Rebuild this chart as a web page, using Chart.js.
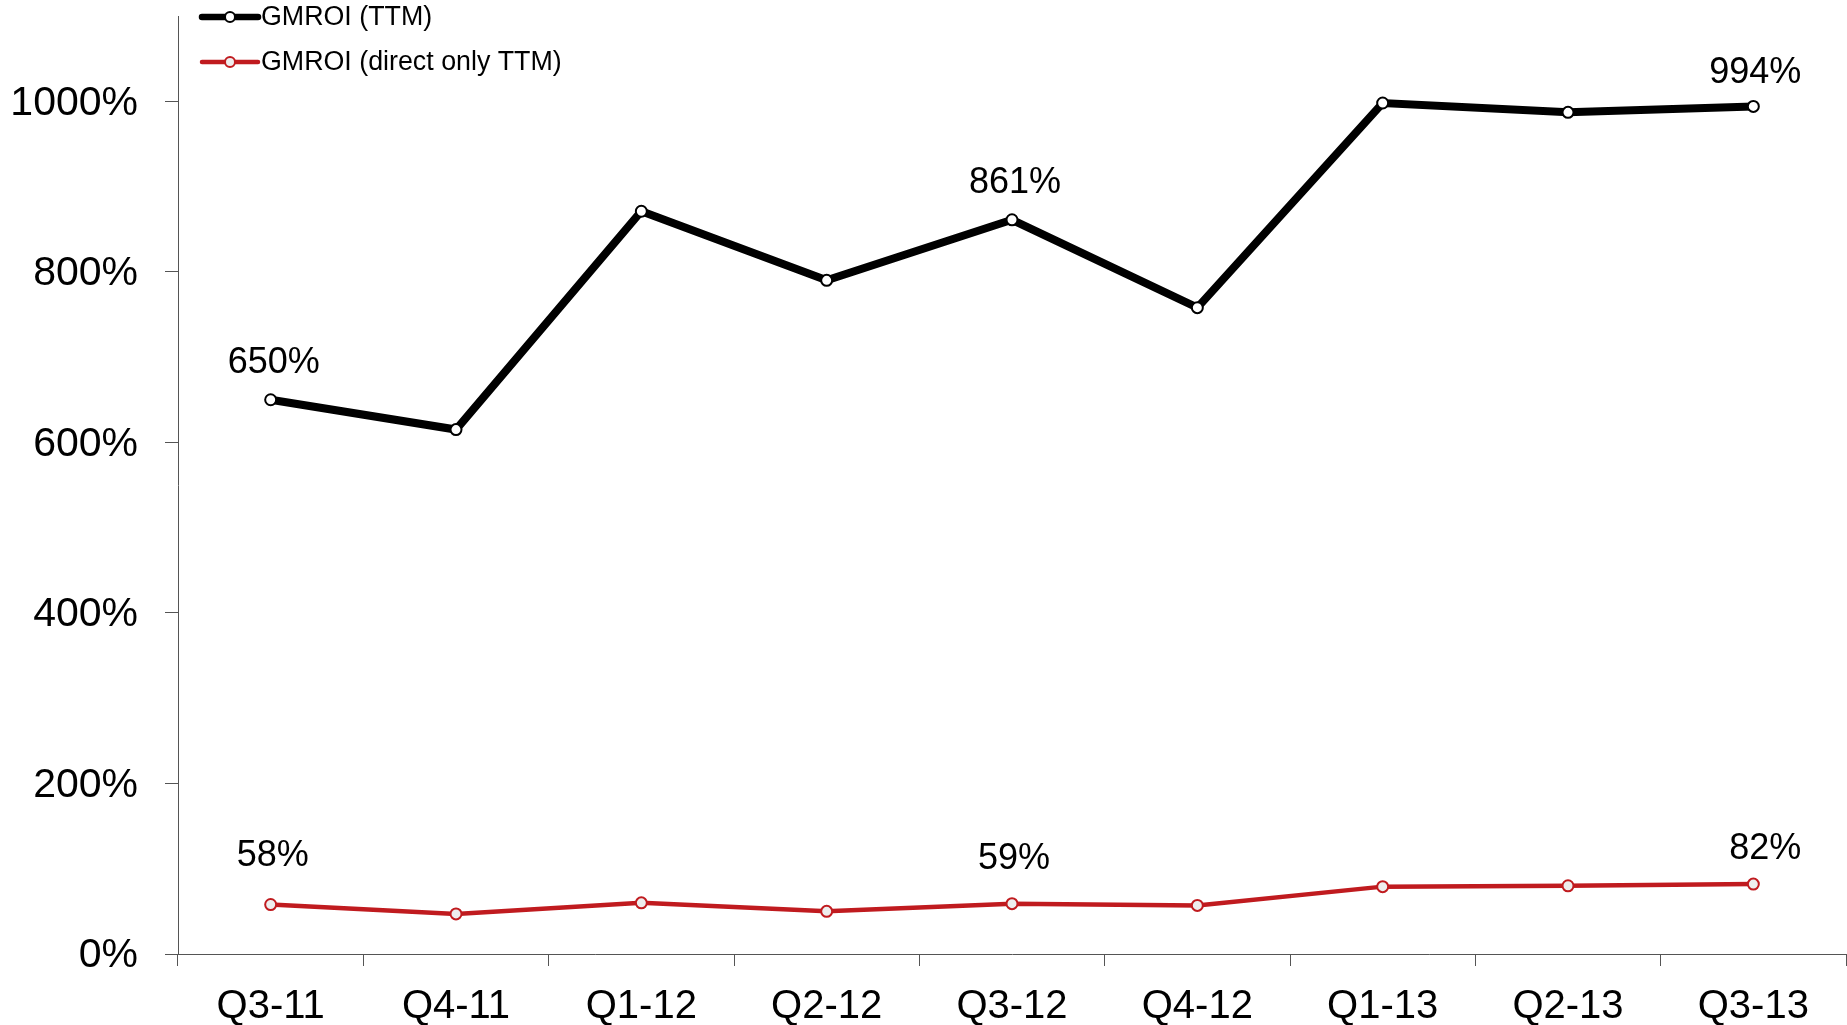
<!DOCTYPE html>
<html>
<head>
<meta charset="utf-8">
<script src="https://cdn.jsdelivr.net/npm/chart.js@4.4.0/dist/chart.umd.min.js"></script>
<style>
  html, body { margin: 0; padding: 0; background: #fff; overflow: hidden; }
  #wrap { width: 1847px; height: 1025px; position: relative; }
  canvas { display: block; }
</style>
</head>
<body>
<div id="wrap"><canvas id="myChart"></canvas></div>
<script>
const quarters = ['Q3-11', 'Q4-11', 'Q1-12', 'Q2-12', 'Q3-12', 'Q4-12', 'Q1-13', 'Q2-13', 'Q3-13'];
const gmroiTTM = [650, 615, 871, 790, 861, 758, 998, 987, 994];
const gmroiDirect = [58, 47, 60, 50, 59, 57, 79, 80, 82];
const yTicks = [0, 200, 400, 600, 800, 1000];
const labelledPoints = [0, 4, 8];

Chart.defaults.font.family = "'Liberation Sans', Arial, sans-serif";
Chart.defaults.color = '#000';

// legend drawn by hand so it can sit over the top of the plot
const floatLegend = {
  id: 'floatLegend',
  afterDraw(chart, args, opts) {
    const ctx = chart.ctx;
    const area = chart.chartArea;
    ctx.save();
    chart.data.datasets.forEach((ds, i) => {
      const x0 = area.left + opts.x;
      const y = area.top + opts.y + i * opts.rowGap;
      ctx.strokeStyle = ds.borderColor;
      ctx.lineWidth = ds.legendLine;
      ctx.lineCap = 'round';
      ctx.beginPath();
      ctx.moveTo(x0, y);
      ctx.lineTo(x0 + opts.lineLen, y);
      ctx.stroke();
      ctx.beginPath();
      ctx.arc(x0 + opts.lineLen / 2, y, 5, 0, Math.PI * 2);
      ctx.fillStyle = ds.pointBackgroundColor;
      ctx.fill();
      ctx.lineWidth = 2;
      ctx.stroke();
      ctx.fillStyle = '#000';
      ctx.font = opts.font;
      ctx.textBaseline = 'middle';
      ctx.textAlign = 'left';
      ctx.fillText(ds.label, x0 + opts.lineLen + 3, y + 1);
    });
    ctx.restore();
  }
};

const pointLabels = {
  id: 'pointLabels',
  afterDatasetsDraw(chart, args, opts) {
    const ctx = chart.ctx;
    ctx.save();
    ctx.font = opts.font;
    ctx.fillStyle = '#000';
    ctx.textAlign = 'center';
    ctx.textBaseline = 'middle';
    chart.data.datasets.forEach((ds, i) => {
      const meta = chart.getDatasetMeta(i);
      labelledPoints.forEach((idx, k) => {
        const pt = meta.data[idx];
        const off = opts.offsets[i][k];
        ctx.fillText(ds.data[idx] + '%', pt.x + off[0], pt.y - off[1]);
      });
    });
    ctx.restore();
  }
};

const data = {
  labels: quarters,
  datasets: [{
    label: 'GMROI (TTM)',
    data: gmroiTTM,
    borderColor: '#000',
    borderWidth: 8,
    legendLine: 6.5,
    pointRadius: 5.5,
    pointBorderWidth: 2,
    pointBackgroundColor: '#fff',
    pointBorderColor: '#000',
  },
  {
    label: 'GMROI (direct only TTM)',
    data: gmroiDirect,
    borderColor: '#C01B1F',
    borderWidth: 4.5,
    legendLine: 4.5,
    pointRadius: 5.5,
    pointBorderWidth: 2,
    pointBackgroundColor: '#eeeeee',
    pointBorderColor: '#C01B1F',
  }]
};

const config = {
  type: 'line',
  data: data,
  plugins: [floatLegend, pointLabels],
  options: {
    responsive: true,
    maintainAspectRatio: false,
    animation: false,
    layout: {
      autoPadding: false,
      padding: { top: 16, right: 1, left: 0, bottom: 0 }
    },
    plugins: {
      legend: { display: false },
      tooltip: { enabled: false },
      floatLegend: {
        x: 24,
        y: 1,
        rowGap: 45,
        lineLen: 56,
        font: "26.8px 'Liberation Sans', Arial, sans-serif",
      },
      pointLabels: {
        font: "36px 'Liberation Sans', Arial, sans-serif",
        offsets: [
          [[3, 37], [3, 37], [2, 33]],
          [[2, 48], [2, 45], [12, 35]]
        ],
      },
    },
    scales: {
      x: {
        offset: true,
        grid: {
          offset: true,
          drawOnChartArea: false,
          tickLength: 12,
          color: '#555',
        },
        border: { color: '#555', width: 1 },
        ticks: {
          font: { size: 40 },
          padding: 17,
          maxRotation: 0,
        },
        afterFit(scale) {
          scale.height = 71;
          scale.paddingLeft = 0;
          scale.paddingRight = 0;
        },
      },
      y: {
        min: 0,
        max: 1100,
        grid: {
          drawOnChartArea: false,
          tickLength: 13,
          color: '#555',
        },
        border: { color: '#555', width: 1 },
        ticks: {
          stepSize: 200,
          font: { size: 41 },
          padding: 27,
          labelOffset: 2,
          callback: (v) => v + '%',
        },
        afterBuildTicks(scale) {
          scale.ticks = yTicks.map(v => ({ value: v }));
        },
        afterFit(scale) {
          scale.width = 178;
          scale.paddingTop = 0;
          scale.paddingBottom = 0;
        },
      },
    }
  }
};

const myChart = new Chart(document.getElementById('myChart'), config);
</script>
</body>
</html>
